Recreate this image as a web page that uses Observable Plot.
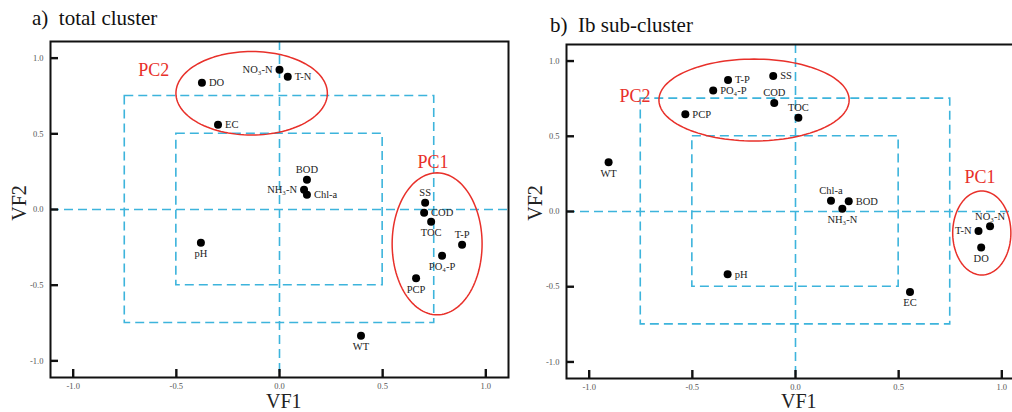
<!DOCTYPE html>
<html><head><meta charset="utf-8">
<script src="https://cdn.jsdelivr.net/npm/d3@7"></script>
<script src="https://cdn.jsdelivr.net/npm/@observablehq/plot@0.6"></script>
<style>
html,body{margin:0;padding:0;background:#fff;}
#wrap{position:relative;width:1012px;height:412px;overflow:hidden;font-family:"Liberation Serif","Times New Roman",serif;}
.panel{position:absolute;top:0;width:512px;height:412px;}
.panel svg{max-width:none !important;}
.title{position:absolute;font-family:"Liberation Serif","Times New Roman",serif;font-size:21px;color:#111;white-space:pre;line-height:16px;}
.axl{position:absolute;font-family:"Liberation Serif","Times New Roman",serif;font-size:20px;color:#222;line-height:14px;white-space:nowrap;}
</style></head><body>
<div id="wrap">
  <div id="pa" class="panel" style="left:0px"></div>
  <div id="pb" class="panel" style="left:516px"></div>
  <div class="title" style="left:32px;top:10px">a)  total cluster</div>
  <div class="title" style="left:550px;top:17px">b)  Ib sub-cluster</div>
  <div class="axl" id="xa" style="top:394px;">VF1</div>
  <div class="axl" id="xb" style="top:394px;">VF1</div>
  <div class="axl" id="ya">VF2</div>
  <div class="axl" id="yb">VF2</div>
</div>
<script>
// ---------- data: panel a (total cluster) ----------
const varsA = ["NO₃-N","T-N","DO","EC","BOD","NH₃-N","Chl-a","SS","COD","TOC","T-P","PO₄-P","pH","PCP","WT"];
const vf1A  = [0.00, 0.04, -0.376, -0.298, 0.133, 0.119, 0.133, 0.706, 0.701, 0.735, 0.885, 0.788, -0.381, 0.662, 0.395];
const vf2A  = [0.923, 0.877, 0.837, 0.56, 0.196, 0.13, 0.097, 0.044, -0.022, -0.081, -0.233, -0.306, -0.22, -0.455, -0.834];

// ---------- data: panel b (Ib sub-cluster) ----------
const varsB = ["T-P","SS","PO₄-P","COD","TOC","PCP","WT","Chl-a","BOD","NH₃-N","NO₃-N","T-N","DO","pH","EC"];
const vf1B  = [-0.327, -0.108, -0.399, -0.103, 0.014, -0.534, -0.906, 0.172, 0.258, 0.227, 0.943, 0.887, 0.90, -0.329, 0.555];
const vf2B  = [0.874, 0.90, 0.805, 0.721, 0.623, 0.646, 0.327, 0.072, 0.068, 0.019, -0.098, -0.13, -0.24, -0.417, -0.535];

// label side for each variable (layout, not data)
const sideA = {"NO₃-N":"left","T-N":"right","DO":"right","EC":"right","BOD":"above","NH₃-N":"left","Chl-a":"right","SS":"above","COD":"right","TOC":"below","T-P":"above","PO₄-P":"below","pH":"below","PCP":"below","WT":"below"};
const sideB = {"T-P":"right","SS":"right","PO₄-P":"right","COD":"above","TOC":"above","PCP":"right","WT":"below","Chl-a":"above","BOD":"right","NH₃-N":"below","NO₃-N":"above","T-N":"left","DO":"below","pH":"right","EC":"below"};

// cluster groupings: name, centre (VF1,VF2), radii, label position
const clusterNamesA = ["PC2","PC1"];
const clusterCxA = [-0.135, 0.764], clusterCyA = [0.768, -0.227];
const clusterRxA = [0.367, 0.218], clusterRyA = [0.276, 0.469];
const clusterLxA = [-0.609, 0.744], clusterLyA = [0.917, 0.312];

const clusterNamesB = ["PC2","PC1"];
const clusterCxB = [-0.201, 0.903], clusterCyB = [0.741, -0.143];
const clusterRxB = [0.461, 0.141], clusterRyB = [0.272, 0.279];
const clusterLxB = [-0.778, 0.894], clusterLyB = [0.764, 0.226];

const ticks = [-1, -0.5, 0, 0.5, 1];
const boxes = [0.75, 0.5];

const BLUE = "#3db4dc", RED = "#e8302a";
const FONT = "'Liberation Serif', 'Times New Roman', serif";
const W = 512, H = 412, ML = 50, MR = 4, TICK = 8;

function panel(vars, v1, v2, side, cn, cx, cy, rx, ry, lx, ly, mt, mb) {
  const pts = vars.map((n, i) => ({n, x: v1[i], y: v2[i], s: side[n]}));
  const ell = [];
  cn.forEach((c, k) => {
    for (let a = 0; a < 360; a += 3) {
      const t = a * Math.PI / 180;
      ell.push({c, x: cx[k] + rx[k] * Math.cos(t), y: cy[k] + ry[k] * Math.sin(t)});
    }
  });
  const clab = cn.map((c, k) => ({c, x: lx[k], y: ly[k]}));
  const bx = boxes.map(b => ({x1: -b, x2: b, y1: -b, y2: b}));
  const dash = "9,5";
  const plotW = W - ML - MR, plotH = H - mt - mb;
  const txt = (s, o) => Plot.text(pts.filter(d => d.s === s), {x: "x", y: "y", text: "n", fontSize: 10.5, fill: "#222", ...o});
  return Plot.plot({
    width: W, height: H,
    marginLeft: ML, marginRight: MR, marginTop: mt, marginBottom: mb,
    x: {domain: [-1.11, 1.11]},
    y: {domain: [-1.11, 1.11]},
    style: {fontFamily: FONT, background: "transparent", overflow: "visible", maxWidth: "none"},
    marks: [
      Plot.rect(bx, {x1: "x1", x2: "x2", y1: "y1", y2: "y2", fill: "none", stroke: BLUE, strokeWidth: 1.6, strokeDasharray: dash}),
      Plot.ruleX([0], {stroke: BLUE, strokeWidth: 1.6, strokeDasharray: dash}),
      Plot.ruleY([0], {stroke: BLUE, strokeWidth: 1.6, strokeDasharray: dash}),
      Plot.line(ell, {x: "x", y: "y", z: "c", stroke: RED, strokeWidth: 1.5, curve: "linear-closed"}),
      Plot.text(clab, {x: "x", y: "y", text: "c", fill: RED, fontSize: 18}),
      Plot.frame({stroke: "#111", strokeWidth: 2}),
      // inward tick marks
      Plot.ruleX(ticks, {x: d => d, insetTop: plotH - TICK, stroke: "#111", strokeWidth: 2.4}),
      Plot.ruleY(ticks, {y: d => d, insetRight: plotW - TICK, stroke: "#111", strokeWidth: 2.4}),
      Plot.axisX({ticks, tickSize: 0, tickPadding: 5, fill: "#555", fontSize: 8.5, tickFormat: d => d.toFixed(1), label: null}),
      Plot.axisY({ticks, tickSize: 0, tickPadding: 7, fill: "#555", fontSize: 8.5, tickFormat: d => d.toFixed(1), label: null}),
      Plot.dot(pts, {x: "x", y: "y", r: 4, fill: "#000"}),
      txt("right", {dx: 7, textAnchor: "start"}),
      txt("left", {dx: -7, textAnchor: "end"}),
      txt("above", {dy: -10}),
      txt("below", {dy: 11})
    ]
  });
}

document.getElementById("pa").append(panel(varsA, vf1A, vf2A, sideA, clusterNamesA, clusterCxA, clusterCyA, clusterRxA, clusterRyA, clusterLxA, clusterLyA, 41, 35));
document.getElementById("pb").append(panel(varsB, vf1B, vf2B, sideB, clusterNamesB, clusterCxB, clusterCyB, clusterRxB, clusterRyB, clusterLxB, clusterLyB, 44, 34));

// axis titles centred on the plot areas
function place(id, cx) { const e = document.getElementById(id); e.style.left = (cx - e.offsetWidth / 2) + "px"; }
place("xa", 284); place("xb", 799);
function placeY(id, cx) { const e = document.getElementById(id); e.style.left = (cx - e.offsetWidth / 2) + "px"; e.style.transform = "rotate(-90deg)"; e.style.top = (203 - e.offsetHeight / 2) + "px"; }
placeY("ya", 19); placeY("yb", 535);
</script>
</body></html>
